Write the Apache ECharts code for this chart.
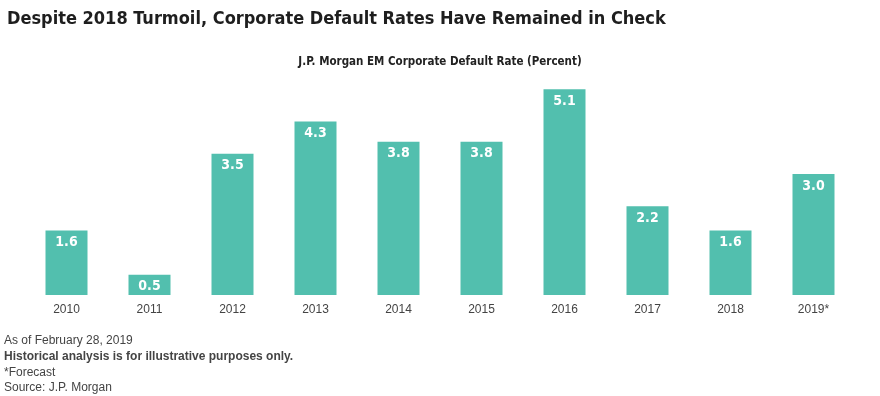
<!DOCTYPE html>
<html>
<head>
<meta charset="utf-8">
<script src="https://cdn.jsdelivr.net/npm/echarts@6/dist/echarts.min.js"></script>
<style>
  html, body { margin: 0; padding: 0; background: #fff; }
  #chart { width: 880px; height: 396px; }
</style>
</head>
<body>
<div id="chart"></div>
<script>
var years = ['2010', '2011', '2012', '2013', '2014', '2015', '2016', '2017', '2018', '2019*'];
var defaultRates = [1.6, 0.5, 3.5, 4.3, 3.8, 3.8, 5.1, 2.2, 1.6, 3.0];
var footnotes = [
    'As of February 28, 2019',
    'Historical analysis is for illustrative purposes only.',
    '*Forecast',
    'Source: J.P. Morgan'
];

var myChart = echarts.init(document.getElementById('chart'));

var condensed = '"DejaVu Sans Condensed", "DejaVu Sans", sans-serif';

var option = {
    backgroundColor: '#fff',
    animation: false,
    title: [
        {
            text: 'Despite 2018 Turmoil, Corporate Default Rates Have Remained in Check',
            left: 2,
            top: 5,
            textStyle: { fontFamily: condensed, fontSize: 18, fontWeight: 'bold', color: '#1e1e1e' }
        },
        {
            text: 'J.P. Morgan EM Corporate Default Rate (Percent)',
            left: 'center',
            top: 51,
            textStyle: { fontFamily: condensed, fontSize: 11.5, fontWeight: 'bold', color: '#222' }
        }
    ],
    grid: { left: 25, right: 25, top: 53, bottom: 101 },
    xAxis: {
        type: 'category',
        data: years,
        axisLine: { show: false },
        axisTick: { show: false },
        axisLabel: {
            margin: 9,
            fontFamily: '"Liberation Sans", Arial, sans-serif',
            fontSize: 12,
            color: '#444'
        }
    },
    yAxis: {
        type: 'value',
        min: 0,
        max: 6,
        show: false,
        splitLine: { show: false }
    },
    graphic: footnotes.map(function (t, i) {
        return {
            type: 'text',
            left: 4,
            top: 335 + i * 15.7,
            style: {
                text: t,
                fontFamily: '"Liberation Sans", Arial, sans-serif',
                fontSize: 12,
                fontWeight: i === 1 ? 'bold' : 'normal',
                fill: '#444'
            }
        };
    }),
    series: [
        {
            type: 'bar',
            data: defaultRates,
            barWidth: 42,
            itemStyle: { color: '#52bfae' },
            label: {
                show: true,
                position: 'insideTop',
                distance: 5,
                formatter: function (p) { return p.value.toFixed(1); },
                fontFamily: condensed,
                fontWeight: 'bold',
                fontSize: 14,
                color: '#fff'
            }
        }
    ]
};

myChart.setOption(option);
</script>
</body>
</html>
